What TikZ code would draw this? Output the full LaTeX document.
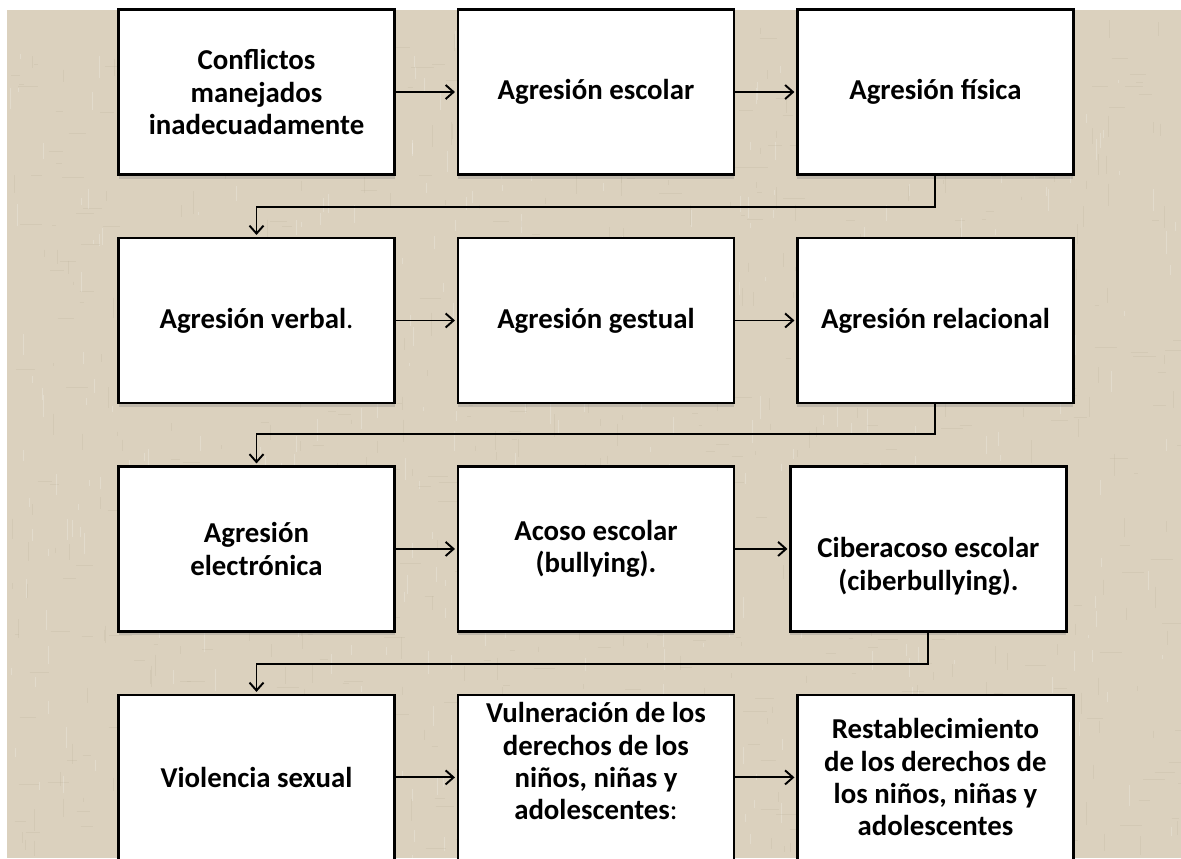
\documentclass[tikz,border=0pt]{standalone}
\usepackage{fontspec}
\setmainfont{Carlito}
\usepackage{xcolor}
\usetikzlibrary{positioning}
\usetikzlibrary{arrows.meta}
\usetikzlibrary{shadows}
\definecolor{burlap}{RGB}{219,209,190}
\definecolor{burlapdark}{RGB}{185,174,152}

\begin{document}
\begin{tikzpicture}[->, >={Straight Barb[length=4.5pt,width=8pt]}, shorten >= 1pt, line width=1.1pt, draw=black, node distance=1.22cm, font=\fontsize{16.4}{18.4}\selectfont\bfseries]
		\tikzstyle{block}=[draw=black, line width=1.4pt, rectangle, fill=white, minimum width=5.52cm, minimum height=3.3cm, inner sep=0pt, align=center, drop shadow={shadow xshift=0pt, shadow yshift=-0.08cm, opacity=0.3}]
		\tikzstyle{weave}=[-, line width=0.5pt, opacity=0.22]
		
		\clip (0,0) rectangle (23.62,-17.16);
		\fill[burlap, -] (0.14,-0.2) rectangle (23.62,-17.16);
		% burlap texture
		\pgfmathsetseed{7}
		\foreach \i in {0,...,450} {
			\pgfmathsetmacro{\px}{0.2+rnd*23.4}
			\pgfmathsetmacro{\py}{-0.3-rnd*16.8}
			\draw[weave, burlapdark] (\px,\py) -- ++(0,-0.1-rnd*0.4);
			\pgfmathsetmacro{\qx}{0.2+rnd*23.4}
			\pgfmathsetmacro{\qy}{-0.3-rnd*16.8}
			\draw[weave, burlapdark] (\qx,\qy) -- ++(0.1+rnd*0.4,0);
			\pgfmathsetmacro{\rx}{0.2+rnd*23.4}
			\pgfmathsetmacro{\ry}{-0.3-rnd*16.8}
			\draw[weave, white] (\rx,\ry) -- ++(0,-0.1-rnd*0.4);
		}
		
		% row 1
		\node[block] (conf) at (5.13,-1.84) {Conflictos\\manejados\\inadecuadamente};
		\node[block, right=of conf] (escolar) {Agresión escolar};
		\node[block, right=of escolar] (fisica) {Agresión física};
		
		% row 2
		\node[block, below=of conf] (verbal) {Agresión verbal{\mdseries .}};
		\node[block, right=of verbal] (gestual) {Agresión gestual};
		\node[block, right=of gestual] (relac) {Agresión relacional};
		
		% row 3
		\node[block, below=of verbal] (electr) {Agresión\\electrónica};
		\node[block, right=of electr] (acoso) {Acoso escolar\\(bullying).};
		\node[block, right=1.08cm of acoso] (ciber) {\strut\\Ciberacoso escolar\\(ciberbullying).};
		
		% row 4
		\node[block, below=of electr] (sexual) {Violencia sexual};
		\node[block, right=of sexual] (vulner) {Vulneración de los\\derechos de los\\niños, niñas y\\adolescentes{\mdseries :}\\\mbox{}};
		\node[block, right=of vulner] (restab) {Restablecimiento\\de los derechos de\\los niños, niñas y\\adolescentes};
		
		\path (conf) edge (escolar);
		\path (escolar) edge (fisica);
		\path (verbal) edge (gestual);
		\path (gestual) edge (relac);
		\path (electr) edge (acoso);
		\path (acoso) edge (ciber);
		\path (sexual) edge (vulner);
		\path (vulner) edge (restab);
		
		\draw (fisica.south) -- ++(0,-0.62) -| (verbal.north);
		\draw (relac.south) -- ++(0,-0.6) -| (electr.north);
		\draw (ciber.south) -- ++(0,-0.62) -| (sexual.north);
	\end{tikzpicture}
\end{document}
